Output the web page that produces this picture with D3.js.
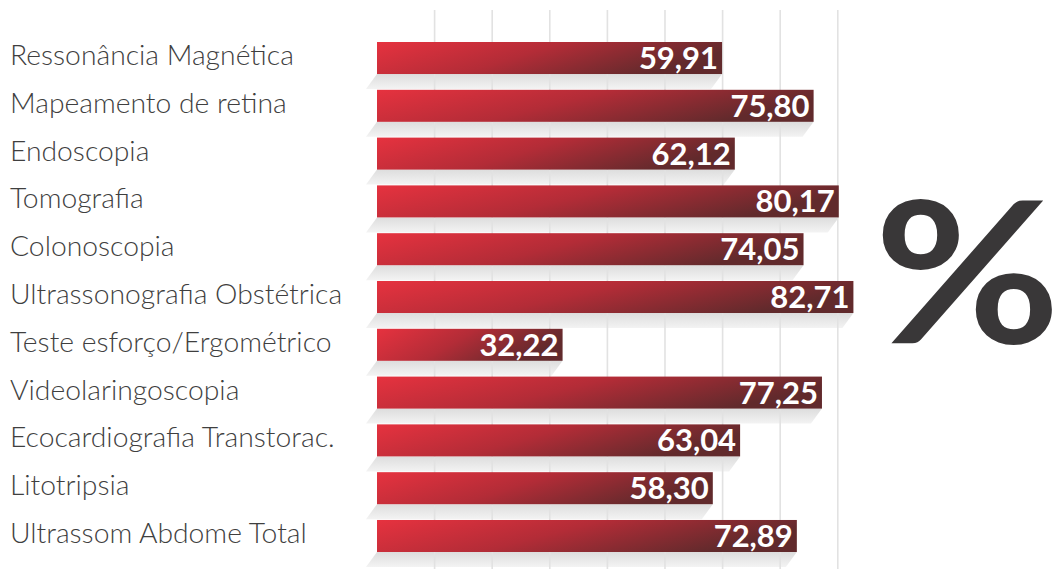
<!DOCTYPE html>
<html><head><meta charset="utf-8">
<script src="https://cdn.jsdelivr.net/npm/d3@7"></script>
<style>html,body{margin:0;padding:0;background:#fff;}svg{display:block;}</style>
</head><body>
<svg id="c" width="1063" height="569"></svg>
<script>
const categories = ["Ressonância Magnética","Mapeamento de retina","Endoscopia","Tomografia","Colonoscopia","Ultrassonografia Obstétrica","Teste esforço/Ergométrico","Videolaringoscopia","Ecocardiografia Transtorac.","Litotripsia","Ultrassom Abdome Total"];
const values = [59.91,75.80,62.12,80.17,74.05,82.71,32.22,77.25,63.04,58.30,72.89];
const valueLabels = ["59,91","75,80","62,12","80,17","74,05","82,71","32,22","77,25","63,04","58,30","72,89"];
const gridTicks = [10,20,30,40,50,60,70,80];

const svg = d3.select("#c");
const x = d3.scaleLinear().domain([0,100]).range([377,377+576]);
const y = d3.scaleBand().domain(categories).range([42,552]).paddingInner(0.33).paddingOuter(0).align(0);
const bw = y.bandwidth();

const defs = svg.append("defs");
const g1 = defs.append("linearGradient").attr("id","barGrad").attr("x1","0").attr("y1","0").attr("x2","1").attr("y2","0.3");
g1.append("stop").attr("offset","0").attr("stop-color","#e6323f");
g1.append("stop").attr("offset","0.5").attr("stop-color","#b32c37");
g1.append("stop").attr("offset","1").attr("stop-color","#612a2c");
const g2 = defs.append("linearGradient").attr("id","shGrad").attr("x1","0").attr("y1","0").attr("x2","0").attr("y2","1");
g2.append("stop").attr("offset","0").attr("stop-color","#dddddd");
g2.append("stop").attr("offset","1").attr("stop-color","#f3f3f3");

// shadows
const shH = 15, shOff = 11;
svg.append("g").selectAll("path").data(categories).join("path")
  .attr("d",(d,i)=>{const x0=x(0), x1=x(values[i]), yt=y(d)+bw; return `M${x0},${yt}L${x1},${yt}L${x1-shOff},${yt+shH}L${x0-shOff},${yt+shH}Z`;})
  .attr("fill","url(#shGrad)");

// gridlines
svg.append("g").selectAll("line").data(gridTicks).join("line")
  .attr("x1",d=>x(d)).attr("x2",d=>x(d)).attr("y1",10).attr("y2",569)
  .attr("stroke","#e2e2e2").attr("stroke-width",1.6);

// bars
svg.append("g").selectAll("rect").data(categories).join("rect")
  .attr("x",x(0)).attr("y",d=>y(d)).attr("width",(d,i)=>x(values[i])-x(0)).attr("height",bw)
  .attr("fill","url(#barGrad)");

// value labels
svg.append("g").selectAll("text").data(categories).join("text")
  .attr("x",(d,i)=>x(values[i])-4).attr("y",d=>y(d)+bw/2+11)
  .attr("text-anchor","end").attr("fill","#fff")
  .attr("font-family","Lato").attr("font-weight","bold").attr("font-size",31)
  .text((d,i)=>valueLabels[i]);

// category labels
svg.append("g").selectAll("text").data(categories).join("text")
  .attr("x",10).attr("y",d=>y(d)+bw/2+7)
  .attr("fill","#3f3f3f").attr("font-family","Lato").attr("font-weight","300").attr("font-size",28.3)
  .text(d=>d);

// percent symbol
svg.append("text").attr("transform","translate(874,343) scale(1.15,1)").attr("fill","#393738")
  .attr("font-family","Lato").attr("font-weight","bold").attr("font-size",198).text("%");
</script>
</body></html>
